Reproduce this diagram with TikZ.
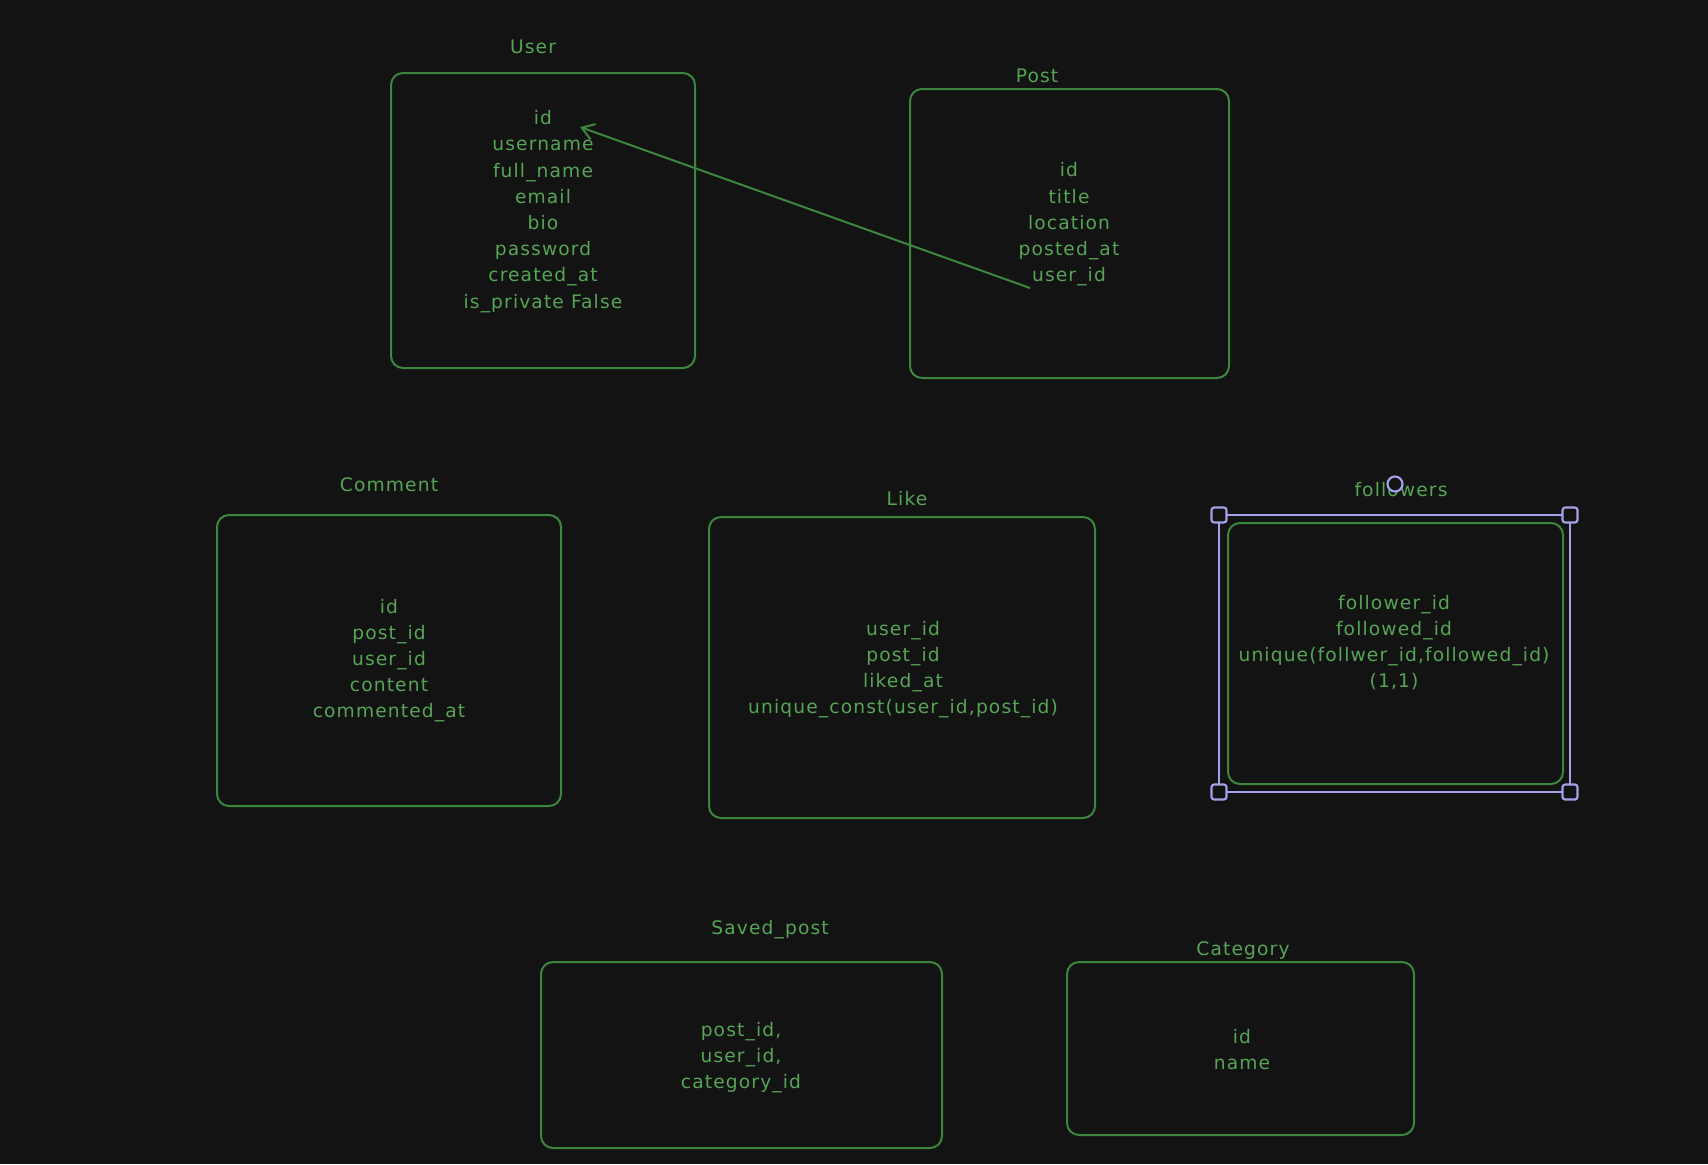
\documentclass[tikz,border=0pt]{standalone}
\usepackage{fontspec}
\setmainfont{DejaVu Sans}
\usetikzlibrary{arrows.meta,fit}
\definecolor{bg}{HTML}{131313}
\definecolor{grn}{HTML}{3D863D}
\definecolor{txt}{HTML}{55A555}
\definecolor{sel}{HTML}{A4A2E8}
\newcommand\fldfont{\fontsize{14pt}{19.65pt}\selectfont\addfontfeature{LetterSpace=6}}
\begin{document}
\begin{tikzpicture}[x=0.75pt,y=-0.75pt,
  tbl/.style={draw=grn, line width=1.5pt, rounded corners=9pt, inner sep=0pt},
  fld/.style={text=txt, align=center, font=\fldfont, inner sep=0pt},
  ttl/.style={text=txt, font=\fldfont, inner sep=0pt},
  rel/.style={draw=grn, line width=1.5pt, -{Straight Barb[length=9pt,width=12pt,line width=1.5pt]}},
  selbox/.style={draw=sel, line width=1.6pt},
  handle/.style={draw=sel, line width=1.6pt, fill=bg, rounded corners=2pt}]
\fill[bg] (0,0) rectangle (1708,1164);
\useasboundingbox (0,0) rectangle (1708,1164);

% User
\node[tbl, fit={(391,73) (695,368)}] (user) {};
\node[ttl] (usert) at (533,47) {User};
\node[fld] (userf) at (543,211.5) {id\\username\\full\_name\\email\\bio\\password\\created\_at\\is\_private False};

% Post
\node[tbl, fit={(910,89) (1229,378)}] (post) {};
\node[ttl] (postt) at (1037,76) {Post};
\node[fld] (postf) at (1069,224.5) {id\\title\\location\\posted\_at\\user\_id};

% Comment
\node[tbl, fit={(217,515) (561,806)}] (comment) {};
\node[ttl] (commentt) at (389,485) {Comment};
\node[fld] (commentf) at (389,660.5) {id\\post\_id\\user\_id\\content\\commented\_at};

% Like
\node[tbl, fit={(709,517) (1095,818)}] (like) {};
\node[ttl] (liket) at (907,499) {Like};
\node[fld] (likef) at (903,669.5) {user\_id\\post\_id\\liked\_at\\unique\_const(user\_id,post\_id)};

% followers (selected)
\node[tbl, fit={(1228,523) (1563,784)}] (followers) {};
\node[ttl] (followerst) at (1401,490) {followers};
\node[fld] (followersf) at (1394,642.5) {follower\_id\\followed\_id\\unique(follwer\_id,followed\_id)\\(1,1)};

% Saved_post
\node[tbl, fit={(541,962) (942,1148)}] (saved) {};
\node[ttl] (savedt) at (770,930) {Saved\_post};
\node[fld] (savedf) at (741,1057.5) {post\_id,\\user\_id,\\category\_id};

% Category
\node[tbl, fit={(1067,962) (1414,1135)}] (category) {};
\node[ttl] (categoryt) at (1243,950) {Category};
\node[fld] (categoryf) at (1242,1049.5) {id\\name};

% relation Post.user_id -> User.id
\coordinate (pu) at (1030,288);
\coordinate (ui) at (580,127);
\draw[rel] (pu) -- (ui);

% selection frame around followers
\draw[selbox] (1219,515) rectangle (1570,792);
\foreach \hx/\hy in {1219/515,1570/515,1219/792,1570/792}
  \draw[handle] (\hx-7.5,\hy-7.5) rectangle (\hx+7.5,\hy+7.5);
\draw[selbox, fill=bg] (1395,484) circle (7.5);
\end{tikzpicture}
\end{document}
